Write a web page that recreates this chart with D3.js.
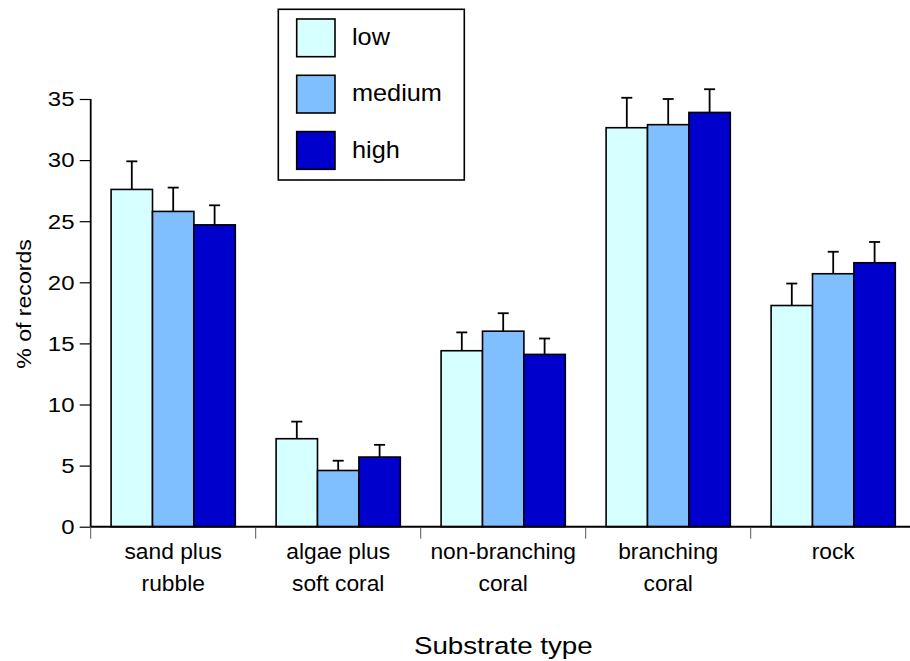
<!DOCTYPE html>
<html>
<head>
<meta charset="utf-8">
<script src="https://cdn.jsdelivr.net/npm/d3@7"></script>
<style>
  body { margin: 0; background: #fff; }
  text { font-family: "Liberation Sans", Arial, sans-serif; fill: #000; }
</style>
</head>
<body>
<div id="my_dataviz"></div>
<script>
var categories = [["sand plus", "rubble"], ["algae plus", "soft coral"], ["non-branching", "coral"], ["branching", "coral"], ["rock"]];
var seriesNames = ["low", "medium", "high"];
var lowValues = [27.6, 7.2, 14.4, 32.65, 18.1];
var mediumValues = [25.8, 4.6, 16.0, 32.9, 20.7];
var highValues = [24.7, 5.7, 14.1, 33.9, 21.6];
var lowErr = [2.3, 1.4, 1.5, 2.45, 1.8];
var mediumErr = [1.95, 0.8, 1.47, 2.1, 1.8];
var highErr = [1.6, 1.0, 1.3, 1.9, 1.7];
var yTicks = [0, 5, 10, 15, 20, 25, 30, 35];
var colors = ["#d6ffff", "#80bfff", "#0000cc"];

var W = 910, H = 661;

var svg = d3.select('#my_dataviz')
  .append('svg')
  .attr('width', W)
  .attr('height', H);

var catKeys = categories.map(function(c) { return c.join(' '); });

var x = d3.scaleBand()
  .domain(catKeys)
  .range([90.7, 915.7])
  .padding(0);

var xInner = d3.scaleBand()
  .domain(seriesNames)
  .range([20.4, 144.6])
  .padding(0);

var y = d3.scaleLinear()
  .domain([0, 35])
  .range([526.7, 99]);

var table = [];
catKeys.forEach(function(k, i) {
  table.push({cat: k, s: 'low', v: lowValues[i], e: lowErr[i]});
  table.push({cat: k, s: 'medium', v: mediumValues[i], e: mediumErr[i]});
  table.push({cat: k, s: 'high', v: highValues[i], e: highErr[i]});
});

// text in the reference is a bit wider than plain Arial
function stretchedText(g, tx, ty, str, size, sx, anchor) {
  return g.append('g')
    .attr('transform', 'translate(' + tx + ',' + ty + ') scale(' + sx + ',1)')
    .append('text')
    .style('font-size', size + 'px')
    .attr('text-anchor', anchor || 'start')
    .text(str);
}

// bars
svg.selectAll('rect.bar')
  .data(table)
  .enter()
  .append('rect')
  .attr('class', 'bar')
  .attr('x', function(d) { return x(d.cat) + xInner(d.s); })
  .attr('y', function(d) { return y(d.v); })
  .attr('width', xInner.bandwidth())
  .attr('height', function(d) { return y(0) - y(d.v); })
  .style('fill', function(d) { return colors[seriesNames.indexOf(d.s)]; })
  .style('stroke', '#000')
  .style('stroke-width', 1.6);

// error bars
var eb = svg.selectAll('g.err')
  .data(table)
  .enter()
  .append('g')
  .attr('class', 'err')
  .attr('transform', function(d) { return 'translate(' + (x(d.cat) + xInner(d.s) + xInner.bandwidth() / 2) + ',0)'; });
eb.append('line')
  .attr('x1', 0).attr('x2', 0)
  .attr('y1', function(d) { return y(d.v); })
  .attr('y2', function(d) { return y(d.v + d.e); })
  .style('stroke', '#000').style('stroke-width', 1.8);
eb.append('line')
  .attr('x1', -5.5).attr('x2', 5.5)
  .attr('y1', function(d) { return y(d.v + d.e); })
  .attr('y2', function(d) { return y(d.v + d.e); })
  .style('stroke', '#000').style('stroke-width', 1.8);

// y axis
var yAxis = svg.append('g')
  .attr('transform', 'translate(90.7,0)')
  .call(d3.axisLeft(y).tickValues(yTicks).tickSize(11).tickFormat(''));
yAxis.select('.domain').attr('d', 'M0,' + y(35) + 'V' + y(0)).style('stroke-width', 1.8);
yAxis.selectAll('.tick line').style('stroke-width', 1.2);
yTicks.forEach(function(t) {
  stretchedText(svg, 74.5, y(t) + 7.3, t, 20.5, 1.17, 'end');
});

// x axis
var xAxis = svg.append('g')
  .attr('transform', 'translate(0,' + y(0) + ')');
xAxis.append('line')
  .attr('x1', 90.7).attr('x2', W)
  .attr('y1', 0).attr('y2', 0)
  .style('stroke', '#000').style('stroke-width', 2);
xAxis.selectAll('line.ct')
  .data(catKeys)
  .enter()
  .append('line')
  .attr('class', 'ct')
  .attr('x1', function(d) { return x(d); })
  .attr('x2', function(d) { return x(d); })
  .attr('y1', 1).attr('y2', 12)
  .style('stroke', '#555').style('stroke-width', 1);

categories.forEach(function(c, i) {
  var cx = x(catKeys[i]) + x.bandwidth() / 2;
  c.forEach(function(line, j) {
    stretchedText(svg, cx, 559 + j * 31.7, line, 21.5, 1.06, 'middle');
  });
});

// axis titles
stretchedText(svg, 503.3, 654.3, 'Substrate type', 23.5, 1.18, 'middle');
svg.append('g')
  .attr('transform', 'translate(31,304) rotate(-90) scale(1.1,1)')
  .append('text')
  .style('font-size', '21px')
  .attr('text-anchor', 'middle')
  .text('% of records');

// legend
var legend = svg.append('g');
legend.append('rect')
  .attr('x', 278.3).attr('y', 9.3)
  .attr('width', 186).attr('height', 170.7)
  .style('fill', '#fff').style('stroke', '#000').style('stroke-width', 1.6);
seriesNames.forEach(function(s, i) {
  legend.append('rect')
    .attr('x', 296.7).attr('y', 19 + i * 56.3)
    .attr('width', 38.3).attr('height', 37.7)
    .style('fill', colors[i]).style('stroke', '#000').style('stroke-width', 1.6);
  stretchedText(legend, 352, 19 + i * 56.3 + 26, s, 23, 1.1, 'start');
});
</script>
</body>
</html>
